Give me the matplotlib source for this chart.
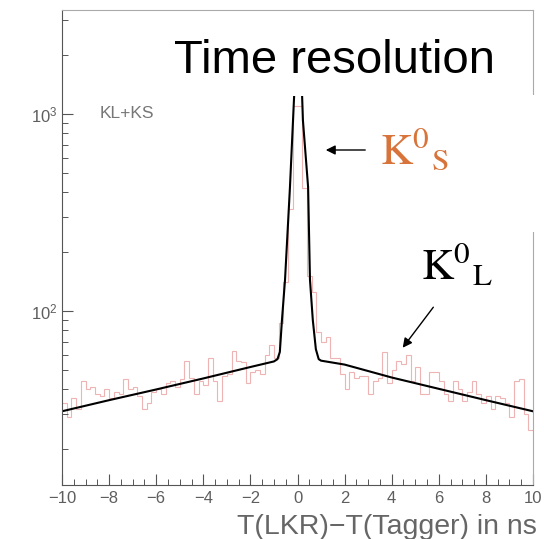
import matplotlib
matplotlib.use("Agg")
import matplotlib.pyplot as plt
from matplotlib.patches import Rectangle
from matplotlib.ticker import MultipleLocator, LogLocator, NullFormatter
import numpy as np

plt.rcParams['font.family'] = ['Liberation Sans', 'DejaVu Sans']
plt.rcParams['mathtext.fontset'] = 'stix'

# histogram: 100 bins of 0.2 ns from -10 to 10
bin_lo, bin_hi, n_bins = -10.0, 10.0, 100
counts = [34, 29, 36, 32, 44, 40, 41, 38, 37, 40,
          36, 39, 38, 45, 40, 41, 37, 32, 34, 39,
          40, 38, 43, 44, 41, 45, 56, 46, 38, 44,
          42, 58, 44, 35, 47, 48, 63, 56, 55, 43,
          49, 50, 48, 60, 67, 58, 87, 140, 330, 1100,
          1100, 420, 150, 125, 78, 70, 74, 58, 58, 48,
          40, 49, 46, 47, 47, 38, 44, 46, 62, 43,
          50, 56, 54, 60, 44, 52, 38, 38, 49, 49,
          44, 38, 35, 44, 40, 35, 39, 44, 38, 34,
          37, 32, 37, 36, 34, 29, 44, 45, 30, 25]

# fit curve
fit_x = [-10, -8, -6, -4, -2, -1, -0.85, -0.75, -0.66, -0.53, -0.32, -0.19, -0.08,
         0.05, 0.15, 0.23, 0.45, 0.53, 0.65, 0.78, 0.9, 1, 2, 4, 6, 8, 10]
fit_y = [31, 35.3, 40, 45.5, 52, 55.5, 57, 62, 90, 144, 426, 930, 1800,
         2500, 1800, 930, 426, 144, 90, 64, 57, 56, 53.5, 46, 40.3, 35.3, 31]

W, H = 544, 539
fig = plt.figure(figsize=(W / 100, H / 100), dpi=100)
ax = fig.add_axes([62 / W, 1 - 485 / H, (533 - 62) / W, (485 - 10) / H])

edges = np.linspace(bin_lo, bin_hi, n_bins + 1)
ax.stairs(counts, edges, color='#eeb4b4', lw=0.8, baseline=None, zorder=1.5)
ax.plot(fit_x, fit_y, color='black', lw=1.5, zorder=2)

ax.set_yscale('log')
ax.set_xlim(-10, 10)
ax.set_ylim(13.1, 3370)

ax.xaxis.set_major_locator(MultipleLocator(2))
ax.xaxis.set_minor_locator(MultipleLocator(0.5))
ax.yaxis.set_major_locator(LogLocator(base=10, numticks=10))
ax.yaxis.set_minor_locator(LogLocator(base=10, subs=np.arange(2, 10), numticks=20))
ax.yaxis.set_minor_formatter(NullFormatter())

ax.tick_params(which='both', direction='in', top=False, right=False,
               colors='#555555', labelcolor='#5e5e5e', labelsize=12)
ax.tick_params(which='major', length=8, width=0.8)
ax.tick_params(which='minor', length=4.5, width=0.7)
ax.tick_params(axis='x', pad=4)

for s in ['left', 'bottom']:
    ax.spines[s].set_color('#555555')
for s in ['top', 'right']:
    ax.spines[s].set_color('#aaaaaa')

# white patch behind the title (covers the top of the peak)
ax.add_patch(Rectangle((165 / W, 1 - 96 / H), (531 - 165) / W, (96 - 12) / H,
                       transform=fig.transFigure, facecolor='white',
                       edgecolor='none', zorder=2.3))
ax.text(334 / W, 1 - 73 / H, 'Time resolution', transform=fig.transFigure,
        fontsize=34, ha='center', va='baseline', color='black', zorder=3)

ax.text(100 / W, 1 - 113 / H, 'KL+KS', transform=fig.transFigure,
        fontsize=12.5, ha='left', va='center', color='#777777')

# patch over right frame next to the K0_S label
fig.add_artist(Rectangle((470 / W, 1 - 232 / H), (W - 470) / W, (232 - 95) / H,
                         transform=fig.transFigure, facecolor='white',
                         edgecolor='none', zorder=1))

fig.text(380 / W, 1 - 164 / H, r'$\mathrm{K}^{0}{}_{\mathrm{S}}$', fontsize=32,
         color='#d8733a', ha='left', va='baseline', zorder=3)
ax.annotate('', xy=(323, H - 150), xycoords='figure pixels',
            xytext=(368, H - 150), textcoords='figure pixels',
            arrowprops=dict(arrowstyle='-|>', color='black', lw=1.0,
                            mutation_scale=14))

fig.text(421 / W, 1 - 279 / H, r'$\mathrm{K}^{0}{}_{\mathrm{L}}$', fontsize=32,
         color='black', ha='left', va='baseline', zorder=3)
ax.annotate('', xy=(401, H - 350), xycoords='figure pixels',
            xytext=(435, H - 305), textcoords='figure pixels',
            arrowprops=dict(arrowstyle='-|>', color='black', lw=1.0,
                            mutation_scale=14))

fig.text(537 / W, 1 - 527 / H, 'T(LKR)\u2212T(Tagger) in ns', fontsize=20.5,
         ha='right', va='center', color='#666666')

fig.savefig('out.png', dpi=100)
